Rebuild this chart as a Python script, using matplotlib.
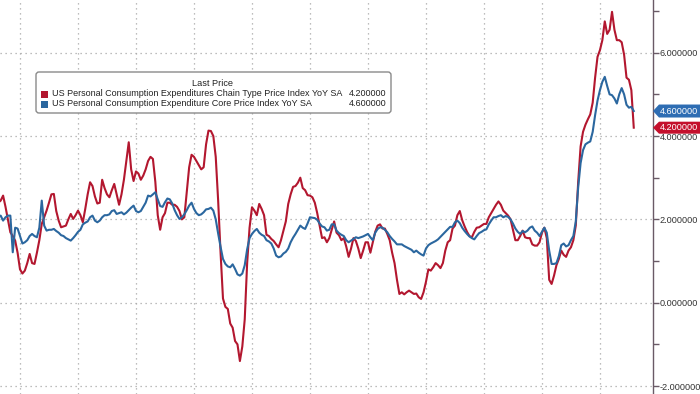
import matplotlib
matplotlib.use('Agg')
import matplotlib.pyplot as plt
from matplotlib.patches import FancyBboxPatch, Polygon, Rectangle
from matplotlib.transforms import IdentityTransform
import numpy as np

plt.rcParams['font.family'] = ['Liberation Sans', 'DejaVu Sans']

# ---- data: monthly YoY %, starting April 2001, ending March 2023 ----
start_year, start_month = 2001, 4
headline = [
    2.40, 2.45, 2.57, 2.30, 2.00, 1.69, 1.60, 1.49, 1.20,                      # 2001 Apr-Dec
    0.80, 0.70, 0.77, 0.95, 1.17, 0.95, 0.93, 1.20, 1.50, 1.89, 2.05, 2.21,    # 2002
    2.40, 2.60, 2.61, 2.20, 1.97, 1.81, 1.83, 1.85, 2.00, 2.13, 2.01, 2.10,    # 2003
    2.21, 2.10, 1.93, 2.25, 2.60, 2.89, 2.80, 2.55, 2.38, 2.40, 2.95, 2.75,    # 2004
    2.60, 2.53, 2.70, 2.85, 2.60, 2.35, 2.60, 2.95, 3.40, 3.85, 3.20, 2.92,    # 2005
    3.15, 3.10, 2.95, 3.05, 3.20, 3.40, 3.50, 3.45, 2.90, 2.10, 1.75, 2.05,    # 2006
    2.15, 2.40, 2.40, 2.35, 2.35, 2.30, 2.20, 2.00, 2.05, 2.65, 3.25, 3.55,    # 2007
    3.50, 3.40, 3.30, 3.20, 3.25, 3.80, 4.13, 4.12, 4.00, 3.50, 2.45, 1.20,    # 2008
    0.10, -0.10, -0.15, -0.50, -0.60, -0.92, -1.00, -1.40, -1.05, -0.40, 0.95, 1.80,  # 2009
    2.29, 2.21, 2.10, 2.37, 2.25, 2.10, 1.63, 1.60, 1.53, 1.48, 1.40, 1.33,    # 2010
    1.50, 1.72, 1.95, 2.37, 2.60, 2.78, 2.80, 2.88, 3.00, 2.75, 2.70, 2.58,    # 2011
    2.57, 2.53, 2.40, 2.15, 1.85, 1.55, 1.57, 1.45, 1.55, 1.75, 1.95, 1.68,    # 2012
    1.62, 1.50, 1.55, 1.35, 1.10, 1.30, 1.55, 1.48, 1.30, 1.07, 1.25, 1.45,    # 2013
    1.45, 1.20, 1.45, 1.70, 1.85, 1.88, 1.78, 1.78, 1.65, 1.50, 1.20, 0.95,    # 2014
    0.55, 0.21, 0.25, 0.20, 0.25, 0.29, 0.25, 0.21, 0.22, 0.13, 0.09, 0.25,    # 2015
    0.50, 0.80, 0.77, 0.85, 0.95, 0.90, 0.83, 0.95, 1.25, 1.45, 1.50, 1.78,    # 2016
    1.85, 2.10, 2.20, 1.98, 1.83, 1.70, 1.60, 1.57, 1.70, 1.80, 1.81, 1.85,    # 2017
    1.89, 1.89, 2.05, 2.15, 2.25, 2.35, 2.43, 2.35, 2.21, 2.15, 2.09, 2.00,    # 2018
    1.75, 1.50, 1.50, 1.60, 1.73, 1.57, 1.55, 1.55, 1.40, 1.37, 1.37, 1.45,    # 2019
    1.68, 1.80, 1.55, 0.55, 0.45, 0.65, 0.90, 1.05, 1.25, 1.15, 1.10, 1.25,    # 2020
    1.33, 1.50, 1.85, 2.90, 3.75, 4.10, 4.27, 4.40, 4.52, 4.80, 5.40, 5.90,    # 2021
    6.06, 6.30, 6.75, 6.45, 6.55, 6.98, 6.55, 6.30, 6.30, 6.25, 5.95, 5.40,    # 2022
    5.35, 5.10, 4.20,                                                          # 2023 Jan-Mar
]
core = [
    2.05, 2.09, 1.97, 2.05, 2.09, 2.09, 1.21, 1.80, 1.78,                      # 2001 Apr-Dec
    1.60, 1.42, 1.45, 1.50, 1.60, 1.65, 1.60, 1.57, 1.80, 2.45, 1.85, 1.73,    # 2002
    1.75, 1.75, 1.77, 1.72, 1.68, 1.62, 1.60, 1.55, 1.52, 1.49, 1.55, 1.62,    # 2003
    1.70, 1.75, 1.88, 1.92, 1.95, 2.05, 2.09, 1.97, 1.93, 1.97, 2.05, 2.10,    # 2004
    2.10, 2.12, 2.20, 2.22, 2.13, 2.15, 2.17, 2.12, 2.16, 2.22, 2.28, 2.33,    # 2005
    2.20, 2.17, 2.20, 2.30, 2.40, 2.57, 2.55, 2.60, 2.65, 2.48, 2.32, 2.30,    # 2006
    2.41, 2.50, 2.48, 2.38, 2.22, 2.10, 2.01, 2.05, 2.12, 2.22, 2.33, 2.40,    # 2007
    2.25, 2.15, 2.10, 2.12, 2.17, 2.24, 2.25, 2.28, 2.21, 2.00, 1.66, 1.34,    # 2008
    1.05, 0.93, 0.87, 0.85, 0.92, 0.81, 0.68, 0.65, 0.70, 0.90, 1.28, 1.55,    # 2009
    1.65, 1.72, 1.77, 1.68, 1.63, 1.60, 1.50, 1.47, 1.42, 1.30, 1.13, 1.09,    # 2010
    1.11, 1.18, 1.22, 1.30, 1.45, 1.56, 1.65, 1.75, 1.85, 1.80, 1.77, 1.90,    # 2011
    2.05, 2.04, 2.03, 1.99, 1.90, 1.83, 1.81, 1.73, 1.75, 1.88, 1.88, 1.73,    # 2012
    1.67, 1.63, 1.60, 1.50, 1.45, 1.49, 1.53, 1.57, 1.55, 1.57, 1.59, 1.62,    # 2013
    1.65, 1.57, 1.50, 1.68, 1.77, 1.81, 1.80, 1.75, 1.69, 1.60, 1.53, 1.47,    # 2014
    1.40, 1.40, 1.40, 1.36, 1.33, 1.30, 1.27, 1.21, 1.25, 1.20, 1.16, 1.13,    # 2015
    1.30, 1.38, 1.42, 1.45, 1.48, 1.52, 1.58, 1.64, 1.70, 1.76, 1.82, 1.82,    # 2016
    1.93, 1.97, 1.91, 1.80, 1.72, 1.65, 1.59, 1.55, 1.52, 1.60, 1.67, 1.70,    # 2017
    1.74, 1.76, 1.88, 1.97, 2.05, 2.05, 2.08, 2.10, 2.05, 2.08, 2.06, 2.00,    # 2018
    1.90, 1.78, 1.70, 1.65, 1.72, 1.69, 1.73, 1.80, 1.83, 1.73, 1.68, 1.60,    # 2019
    1.70, 1.80, 1.68, 1.25, 0.93, 0.93, 0.95, 1.12, 1.38, 1.42, 1.35, 1.38,    # 2020
    1.50, 1.60, 1.95, 2.77, 3.35, 3.66, 3.80, 3.84, 3.87, 4.10, 4.50, 4.85,    # 2021
    5.10, 5.30, 5.42, 5.20, 5.00, 4.98, 4.90, 4.78, 5.00, 5.15, 5.00, 4.75,    # 2022
    4.68, 4.70, 4.60,                                                          # 2023 Jan-Mar
]
legend_labels = ["US Personal Consumption Expenditures Chain Type Price Index YoY SA",
                 "US Personal Consumption Expenditure Core Price Index YoY SA"]
last_values = ["4.200000", "4.600000"]
y_ticks = [-2, 0, 2, 4, 6]
grid_years = list(range(2002, 2023, 2))

RED = '#b3172f'
BLUE = '#2b679f'
TAG_RED = '#c4102c'
TAG_BLUE = '#2e6db3'

n = len(headline)
t = start_year + (start_month - 1) / 12 + np.arange(n) / 12

W, H = 700, 394
fig = plt.figure(figsize=(W / 100, H / 100), dpi=100)
ax = fig.add_axes([0, 0, 653 / W, 1])
ax.set_xlim(2001.31, 2023.83)
ax.set_ylim(-2.191, 7.264)

ax.plot(t, headline, color=RED, lw=1.5, zorder=3)
ax.plot(t, core, color=BLUE, lw=1.5, zorder=4)

for s in ['top', 'left', 'bottom']:
    ax.spines[s].set_visible(False)
ax.spines['right'].set_color('#6a5a66')
ax.spines['right'].set_linewidth(1.0)

ax.set_xticks(grid_years)
ax.tick_params(axis='x', length=0, labelbottom=False)
ax.yaxis.tick_right()
ax.set_yticks(y_ticks)
ax.set_yticks([-1, 1, 3, 5, 7], minor=True)
ax.set_yticklabels([f"{v:.6f}" for v in y_ticks])
ax.tick_params(axis='y', which='both', direction='out', length=4, width=1,
               color='#6a5a66', pad=0.8, labelsize=6.6, labelcolor='#333333')
ax.grid(True, which='major', color='#a8a8a8', linestyle=(0, (1, 3)), linewidth=0.9)

def ypix(v):
    return 302.7 - v * 41.67

# value tags
def tag(v, text, color, h=13):
    yc = H - ypix(v)
    pts = [(653, yc), (659, yc + h / 2), (700, yc + h / 2), (700, yc - h / 2), (659, yc - h / 2)]
    fig.add_artist(Polygon(pts, closed=True, facecolor=color, edgecolor='none',
                           transform=IdentityTransform(), zorder=10))
    fig.text(660 / W, yc / H, text, color='white', fontsize=6.6, va='center', ha='left', zorder=11)

tag(core[-1], last_values[1], TAG_BLUE)
tag(headline[-1], last_values[0], TAG_RED, h=12)

# legend box
fig.add_artist(FancyBboxPatch((36, H - 113), 355, 41, boxstyle="round,pad=0,rounding_size=3",
                              facecolor='white', edgecolor='#8a8a8a', linewidth=1.0,
                              transform=IdentityTransform(), zorder=8))
fig.text(213 / W, 1 - 84 / H, "Last Price", fontsize=6.6, color='#222222', ha='center', va='center', zorder=9)
for i, (lab, val, col) in enumerate(zip(legend_labels, last_values, [RED, BLUE])):
    yc = 94 + 10 * i
    fig.add_artist(Rectangle((40.5, H - yc - 3.5), 7, 7, facecolor=col, edgecolor='none',
                             transform=IdentityTransform(), zorder=9))
    fig.text(52 / W, 1 - yc / H, lab, fontsize=6.5, color='#222222', ha='left', va='center', zorder=9)
    fig.text(386 / W, 1 - yc / H, val, fontsize=6.5, color='#222222', ha='right', va='center', zorder=9)

fig.savefig('out.png', dpi=100, facecolor='white')
